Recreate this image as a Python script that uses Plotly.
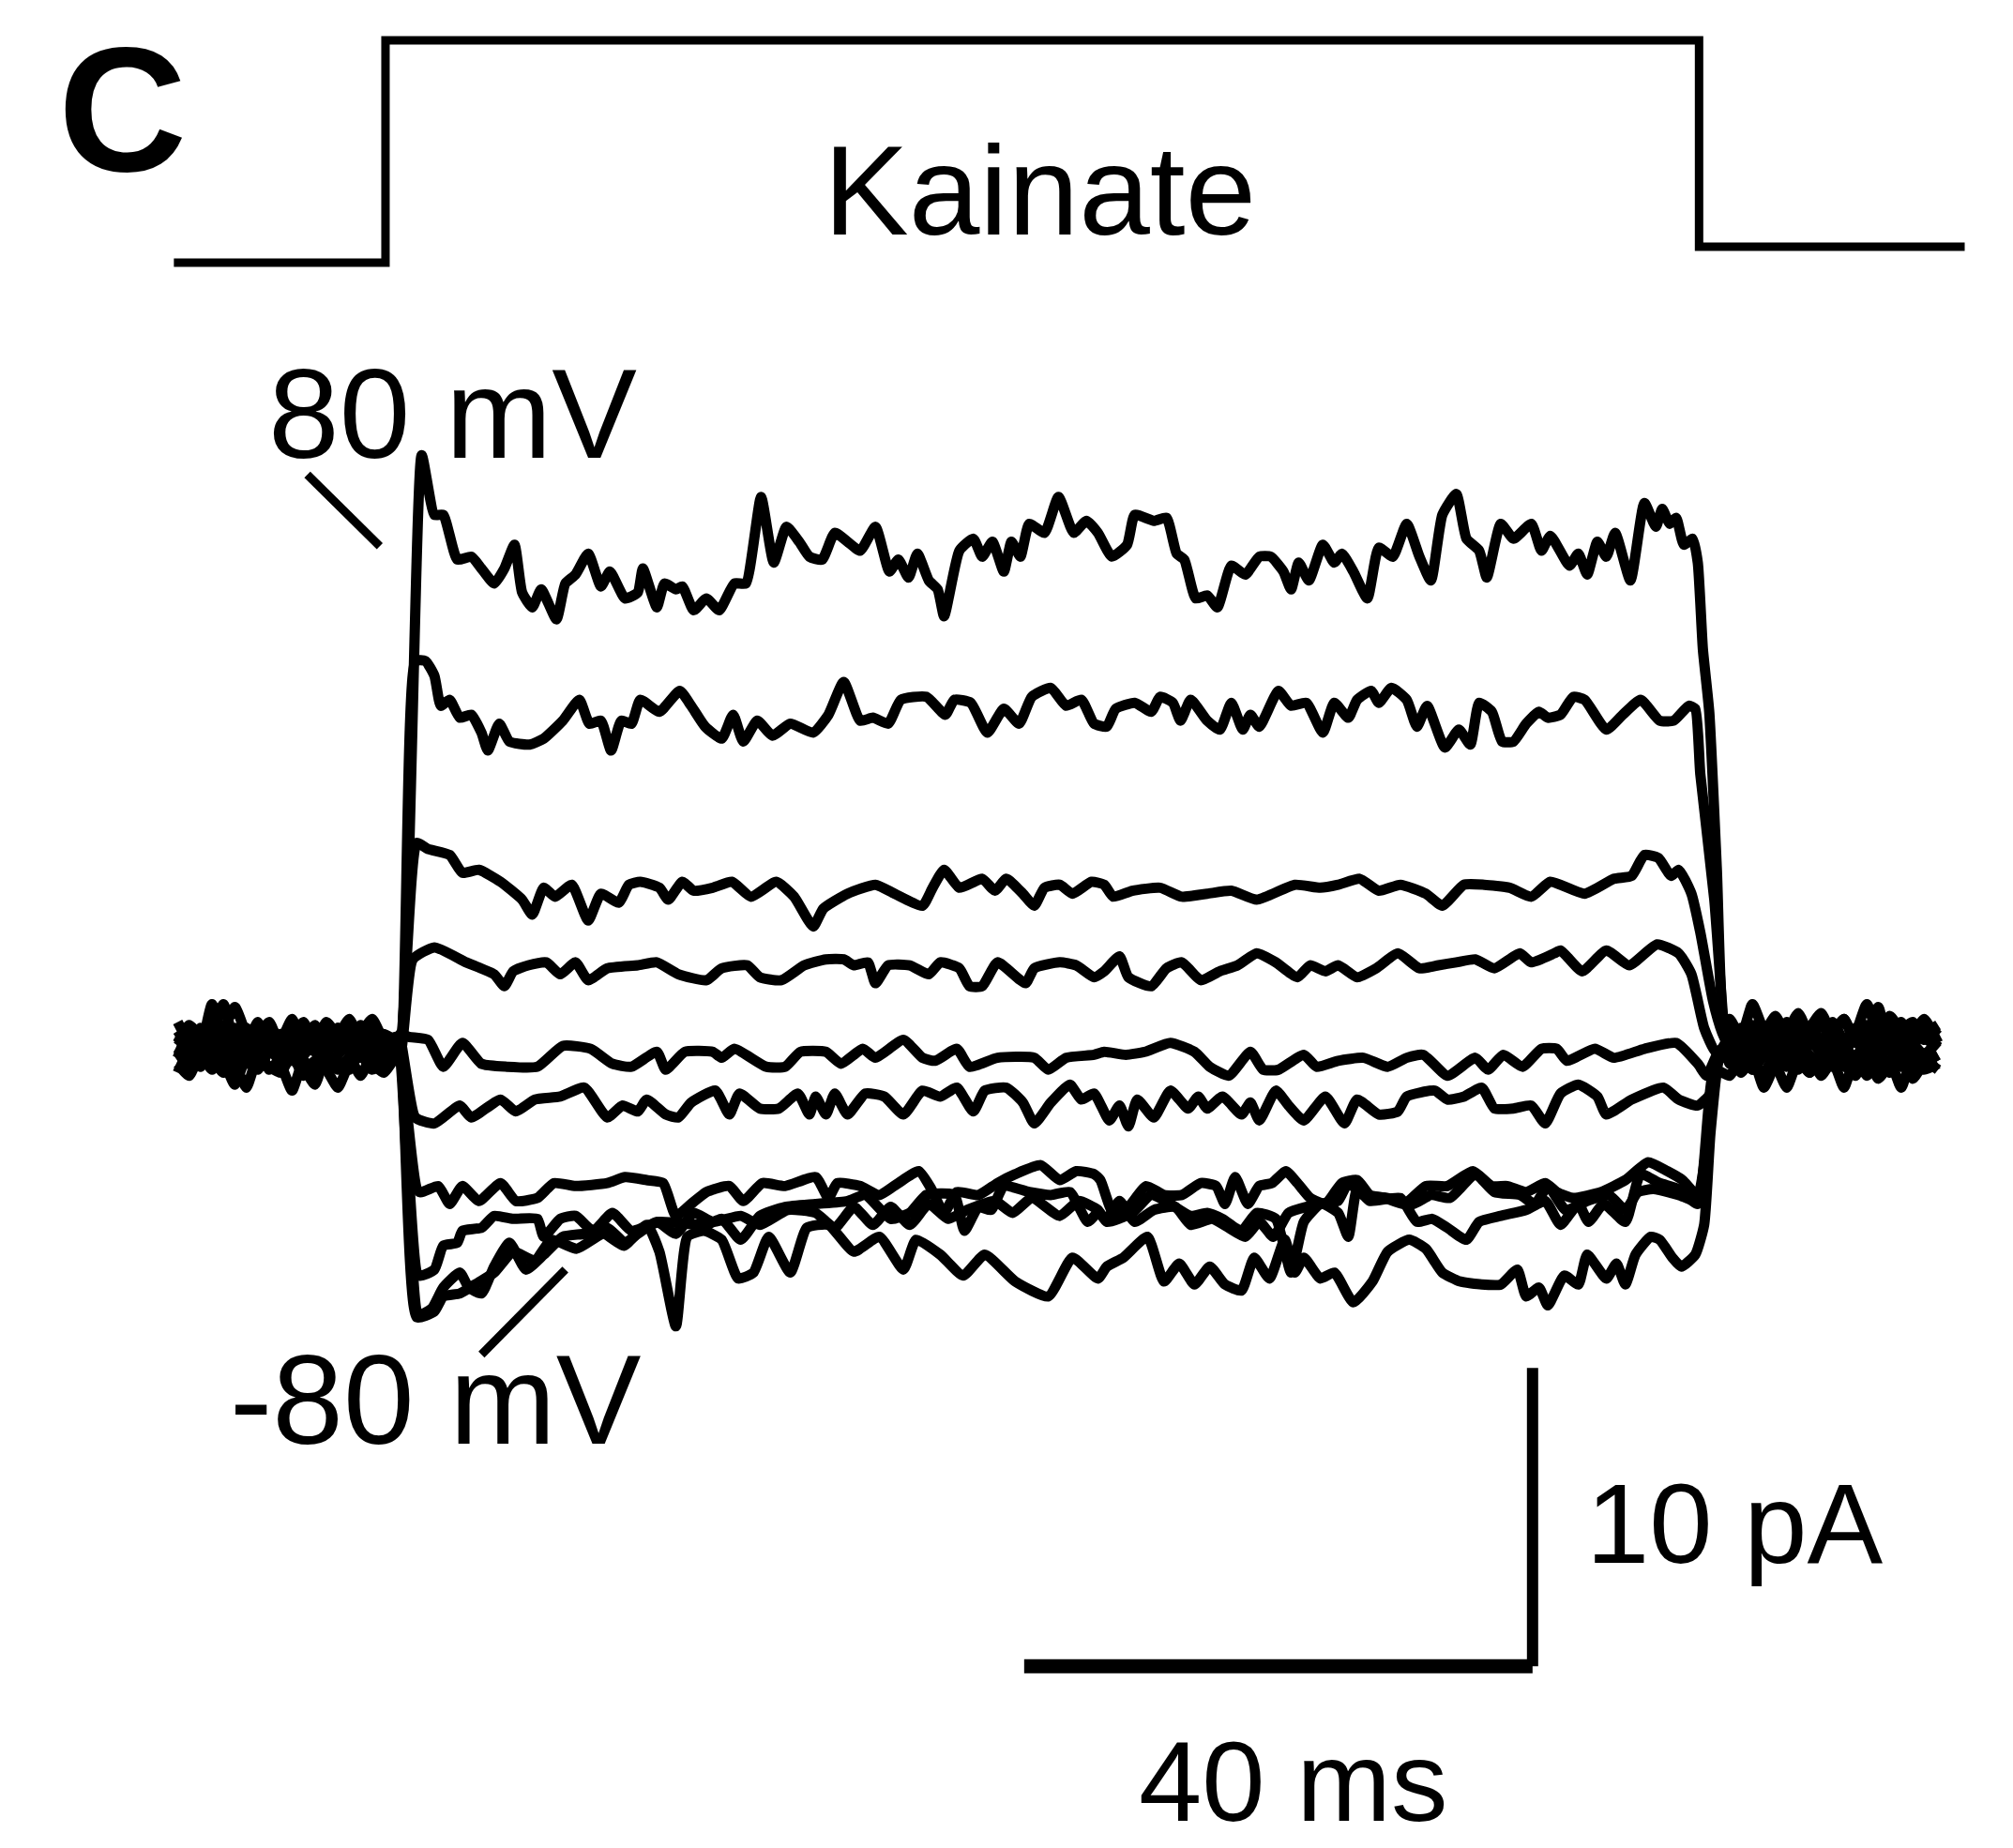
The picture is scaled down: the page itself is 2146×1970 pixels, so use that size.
import plotly.graph_objects as go

# ---------------------------------------------------------------------------
# Whole-cell currents (pA) versus time (ms); the voltage step runs from 0 ms
# to ~101 ms, kainate is applied from ~-1.9 ms to ~101.5 ms.
# Sweeps are listed from the most positive (top) to the most negative.
# ---------------------------------------------------------------------------

# sample times of the baseline before and after the step
t_pre = [-18.2, -17.3, -16.4, -15.5, -14.6, -13.7, -12.8, -11.9, -11.0, -10.1,
         -9.2, -8.3, -7.4, -6.5, -5.6, -4.7, -3.8, -2.9, -2.0, -1.1]
t_post = [103.9, 104.8, 105.7, 106.6, 107.5, 108.4, 109.3, 110.2, 111.1, 112.0,
          112.9, 113.8, 114.7, 115.6, 116.5, 117.4, 118.3, 119.2, 120.3]

# baseline currents (pA) of each sweep before the step
pre_1 = [0.3, -0.2, 0.6, 0.1, -0.4, 0.5, 0.0, 0.8, -0.1, 0.4, -0.5, 0.2, 0.7, -0.2, 0.3, 0.9, 0.1, -0.3, 0.4, 0.2]
pre_2 = [-0.4, 0.5, 0.0, 1.4, 0.2, -0.3, 0.6, 0.1, 0.5, -0.2, 0.3, 0.8, -0.1, 0.4, 0.0, 0.6, -0.4, 0.5, 0.1, -0.1]
pre_3 = [0.8, 0.1, -0.3, 0.4, 1.4, 0.0, -0.5, 0.3, 0.6, 0.2, 0.9, 0.0, 0.4, -0.3, 0.6, 0.2, 0.7, 0.0, -0.2, 0.3]
pre_4 = [-0.9, -0.2, -0.7, 0.0, -0.5, -1.3, -0.4, -0.8, -0.1, -0.6, -1.5, -0.5, -0.9, -0.2, -0.8, -0.4, -1.0, -0.3, -0.6, -0.2]
pre_5 = [0.1, 0.7, 0.3, -0.2, 0.5, 1.3, 0.4, -0.1, 0.6, 0.2, -0.3, 0.5, 0.1, 0.8, 0.3, -0.2, 0.4, 0.9, 0.2, 0.0]
pre_6 = [-0.3, 0.2, -0.6, -0.1, 0.3, -0.4, 0.1, -0.7, -0.2, 0.2, -0.5, -0.1, 0.3, -0.6, -0.3, 0.1, -0.4, 0.0, -0.5, -0.2]
pre_7 = [0.5, 0.0, 0.4, -0.4, 0.1, 0.6, -0.2, 0.3, 0.8, 0.0, 0.4, -0.3, 0.2, 0.5, -0.1, 0.3, 0.6, 0.0, 0.3, 0.1]
pre_8 = [-0.6, -1.0, -0.3, -0.8, -0.2, -0.6, -1.4, -0.4, -0.7, -0.9, -0.3, -1.0, -0.5, -0.8, -1.4, -0.6, -0.3, -0.8, -0.5, -0.3]
pre_9 = [0.0, 0.4, -0.2, 0.3, -0.5, 0.1, 0.5, -0.3, 0.2, -0.4, 0.0, 0.3, -0.2, 0.1, 0.6, -0.1, 0.2, -0.4, 0.1, 0.0]
pre_10 = [-0.2, -0.7, 0.1, -0.4, -0.9, -0.3, -0.6, 0.0, -0.8, -0.4, -0.1, -0.7, -1.3, -0.3, -0.5, -0.8, -0.2, -0.6, -0.9, -0.4]

# baseline currents (pA) of each sweep after the step
post_1 = [0.4, -0.3, 0.7, 0.1, 0.9, -0.2, 0.5, 0.0, 0.8, 0.3, -0.4, 0.6, 0.2, 1.3, -0.1, 0.5, 0.8, 0.2, 0.6]
post_2 = [-0.6, 0.2, -0.3, 0.5, -0.1, 0.4, 1.1, 0.3, -0.2, 0.7, 0.1, -0.5, 0.4, 0.0, 0.6, -0.3, 0.3, 0.9, 0.1]
post_3 = [0.9, 0.3, 1.4, 0.5, 0.0, 0.8, 0.2, 0.6, 1.1, 0.4, 0.9, 0.1, 0.7, 0.3, 1.0, 0.5, 0.0, 0.6, 0.4]
post_4 = [-0.2, -0.9, -0.4, -1.4, -0.6, -0.1, -0.8, -0.3, -1.0, -0.5, -1.4, -0.4, -0.7, -0.2, -0.9, -0.5, -1.1, -0.6, -0.3]
post_5 = [0.2, 0.6, -0.1, 0.4, 1.0, 0.3, -0.2, 0.5, 0.1, 0.8, 0.2, 0.5, -0.3, 0.4, 0.7, 0.0, 0.5, 0.3, -0.1]
post_6 = [-0.5, 0.0, -0.8, -0.3, 0.2, -0.6, -0.2, -0.9, -0.4, 0.1, -0.7, -0.3, -1.0, -0.4, -0.1, -0.7, -0.2, -0.5, -0.3]
post_7 = [0.0, 0.5, 0.2, -0.3, 0.6, 0.1, 0.8, 0.3, -0.2, 0.4, 0.9, 0.2, 0.6, 0.0, 0.3, 0.8, 0.1, 0.4, 0.7]
post_8 = [-1.0, -0.4, -0.8, -0.2, -0.6, -1.4, -0.5, -0.9, -0.3, -0.7, -0.1, -0.8, -0.4, -1.1, -0.6, -0.2, -0.9, -0.5, -0.8]
post_9 = [0.3, -0.2, 0.1, 0.5, -0.4, 0.2, 0.0, 0.6, -0.3, 0.2, -0.1, 0.4, 1.4, 0.3, -0.2, 0.5, 0.1, -0.3, 0.2]
post_10 = [-0.5, -0.1, -0.6, -0.9, -0.3, -0.7, 0.0, -0.4, -0.8, -0.2, -0.6, -1.0, -0.3, -0.7, -0.5, -1.4, -0.4, -0.8, -0.6]

# currents during the step: (time ms, current pA)
step_1 = [(-0.7, 0.2), (1.0, 19.8), (2.0, 17.8), (2.7, 17.8), (3.8, 16.3), (4.9, 16.4), (5.7, 16.0),
          (6.7, 15.5), (7.5, 16.0), (8.3, 16.8), (8.9, 15.2), (9.7, 14.7), (10.4, 15.3), (11.6, 14.3),
          (12.3, 15.5), (13.1, 15.8), (14.1, 16.5), (15.1, 15.4), (15.8, 15.9), (17.0, 15.0), (18.0, 15.2),
          (18.4, 16.0), (19.5, 14.7), (20.1, 15.5), (21.0, 15.3), (21.5, 15.4), (22.4, 14.6), (23.4, 15.0),
          (24.4, 14.6), (25.6, 15.5), (26.5, 15.5), (27.7, 18.4), (28.7, 16.2), (29.7, 17.4), (30.7, 16.9),
          (31.5, 16.4), (32.5, 16.3), (33.5, 17.2), (34.5, 16.9), (35.5, 16.6), (36.7, 17.4), (37.8, 15.9),
          (38.5, 16.3), (39.3, 15.7), (40.0, 16.5), (40.9, 15.6), (41.6, 15.3), (42.1, 14.4), (43.3, 16.6),
          (44.4, 17.0), (45.1, 16.4), (45.9, 16.9), (46.8, 15.9), (47.4, 16.9), (48.1, 16.4), (48.8, 17.5),
          (50.0, 17.2), (51.1, 18.4), (52.3, 17.2), (53.3, 17.6), (54.2, 17.2), (55.3, 16.4), (56.5, 16.8),
          (57.1, 17.8), (58.6, 17.6), (59.6, 17.7), (60.4, 16.5), (61.0, 16.3), (61.9, 15.0), (62.8, 15.1),
          (63.6, 14.7), (64.7, 16.1), (65.8, 15.8), (66.9, 16.4), (67.8, 16.4), (68.8, 15.9), (69.4, 15.3),
          (70.0, 16.2), (70.8, 15.6), (71.9, 16.8), (72.8, 16.2), (73.4, 16.5), (74.3, 15.9), (75.4, 15.0),
          (76.3, 16.7), (77.4, 16.4), (78.5, 17.5), (79.5, 16.4), (80.4, 15.6), (81.3, 17.8), (82.4, 18.5),
          (83.2, 17.0), (84.2, 16.6), (84.8, 15.7), (85.9, 17.5), (86.9, 17.0), (88.3, 17.5), (89.1, 16.6),
          (89.8, 17.1), (91.3, 16.1), (92.0, 16.5), (92.7, 15.8), (93.5, 16.9), (94.2, 16.4), (94.9, 17.2),
          (96.1, 15.6), (97.2, 18.2), (98.1, 17.4), (98.6, 18.0), (99.2, 17.5), (99.7, 17.7), (100.3, 16.8),
          (101.0, 17.0), (101.4, 16.2), (101.8, 13.3), (102.3, 11.2), (102.9, 5.9), (103.4, 0.8)]

step_2 = [(-0.7, -0.1), (0.5, 12.9), (1.3, 12.9), (2.0, 12.4), (2.5, 11.4), (3.2, 11.6), (4.0, 11.0),
          (4.9, 11.1), (5.7, 10.5), (6.2, 9.9), (7.1, 10.8), (7.9, 10.2), (9.5, 10.1), (10.6, 10.3),
          (12.1, 10.9), (13.4, 11.6), (14.2, 10.8), (15.1, 10.9), (15.9, 9.9), (16.7, 10.9), (17.5, 10.8),
          (18.2, 11.6), (19.7, 11.2), (21.3, 11.9), (22.2, 11.4), (23.3, 10.7), (24.6, 10.3), (25.5, 11.1),
          (26.3, 10.2), (27.4, 10.9), (28.6, 10.4), (30.0, 10.8), (31.8, 10.5), (33.0, 11.1), (34.2, 12.2),
          (35.5, 10.9), (36.5, 11.0), (37.7, 10.8), (38.7, 11.6), (40.7, 11.7), (42.2, 11.1), (42.9, 11.6),
          (44.2, 11.5), (45.5, 10.5), (46.8, 11.3), (48.0, 10.8), (49.0, 11.7), (50.5, 12.0), (51.7, 11.4),
          (52.9, 11.6), (53.9, 10.8), (54.9, 10.7), (55.6, 11.3), (57.1, 11.5), (58.4, 11.2), (59.1, 11.7),
          (60.1, 11.5), (60.7, 10.9), (61.5, 11.6), (62.8, 10.9), (63.8, 10.6), (64.7, 11.5), (65.6, 10.6),
          (66.2, 11.1), (66.9, 10.7), (68.4, 11.9), (69.4, 11.4), (70.6, 11.5), (71.9, 10.5), (72.8, 11.5),
          (73.9, 11.0), (74.6, 11.6), (75.7, 11.9), (76.3, 11.5), (77.3, 12.0), (78.5, 11.6), (79.3, 10.7),
          (80.1, 11.4), (81.5, 10.0), (82.6, 10.6), (83.5, 10.1), (84.2, 11.5), (85.2, 11.2), (86.0, 10.2),
          (86.9, 10.2), (87.9, 10.8), (88.9, 11.2), (89.6, 11.0), (90.6, 11.1), (91.6, 11.7), (92.5, 11.6),
          (94.2, 10.6), (95.5, 11.1), (96.9, 11.6), (98.4, 10.9), (99.5, 10.9), (100.7, 11.4), (101.2, 11.3),
          (101.6, 9.1), (102.7, 4.9), (103.5, 0.4)]

step_3 = [(-0.7, 0.3), (0.6, 6.8), (1.5, 6.6), (3.2, 6.4), (4.2, 5.8), (5.5, 5.9), (7.2, 5.5), (8.9, 4.9),
          (9.7, 4.4), (10.6, 5.3), (11.5, 5.0), (12.8, 5.4), (14.1, 4.2), (15.1, 5.1), (16.5, 4.8),
          (17.3, 5.4), (18.2, 5.5), (19.7, 5.3), (20.4, 4.9), (21.5, 5.5), (22.4, 5.2), (23.9, 5.3),
          (25.4, 5.5), (26.9, 5.0), (28.9, 5.5), (30.3, 5.0), (31.8, 4.0), (32.6, 4.6), (34.5, 5.1),
          (36.7, 5.4), (38.2, 5.1), (40.4, 4.7), (41.2, 5.3), (42.1, 5.9), (43.3, 5.3), (45.1, 5.6),
          (46.1, 5.2), (47.0, 5.6), (48.3, 5.1), (49.2, 4.7), (50.0, 5.3), (51.2, 5.4), (52.2, 5.1),
          (53.7, 5.5), (54.7, 5.4), (55.4, 5.0), (56.9, 5.2), (59.1, 5.3), (60.8, 5.0), (62.8, 5.1),
          (64.7, 5.2), (66.7, 4.9), (69.7, 5.4), (71.7, 5.3), (73.1, 5.4), (74.8, 5.6), (76.3, 5.2),
          (78.0, 5.4), (80.0, 5.1), (81.3, 4.7), (83.0, 5.4), (84.6, 5.4), (86.6, 5.3), (88.3, 5.0),
          (89.8, 5.5), (92.5, 5.1), (94.8, 5.6), (96.2, 5.7), (97.2, 6.4), (98.3, 6.3), (99.3, 5.7),
          (99.9, 5.9), (100.9, 5.1), (101.6, 3.8), (102.6, 1.5), (103.5, 0.2)]

step_4 = [(-0.7, -0.3), (0.3, 2.9), (2.0, 3.3), (4.5, 2.8), (6.7, 2.4), (7.5, 2.0), (8.2, 2.5), (9.4, 2.7),
          (10.8, 2.8), (11.9, 2.4), (13.1, 2.8), (14.1, 2.2), (15.6, 2.6), (18.0, 2.7), (19.5, 2.8),
          (21.2, 2.4), (23.4, 2.2), (24.6, 2.6), (26.6, 2.7), (27.6, 2.3), (29.3, 2.2), (31.1, 2.7),
          (32.8, 2.9), (34.2, 2.9), (35.0, 2.7), (36.1, 2.8), (36.7, 2.1), (37.7, 2.7), (39.4, 2.7),
          (40.9, 2.4), (41.8, 2.8), (43.3, 2.6), (44.1, 2.0), (45.1, 2.0), (46.3, 2.8), (48.5, 2.1),
          (49.2, 2.6), (51.2, 2.8), (52.5, 2.7), (53.9, 2.3), (54.7, 2.5), (55.9, 3.0), (56.6, 2.3),
          (58.4, 2.0), (59.6, 2.6), (60.8, 2.8), (62.3, 2.2), (63.8, 2.5), (65.2, 2.7), (66.7, 3.1),
          (68.2, 2.8), (69.9, 2.3), (70.9, 2.7), (72.1, 2.5), (73.1, 2.7), (74.6, 2.3), (76.1, 2.6),
          (77.8, 3.1), (79.5, 2.6), (81.0, 2.7), (82.4, 2.8), (83.9, 2.9), (85.4, 2.6), (87.4, 3.1),
          (88.3, 2.8), (90.1, 3.1), (90.6, 3.2), (92.3, 2.5), (94.2, 3.2), (96.0, 2.7), (98.2, 3.4),
          (99.9, 3.1), (100.9, 2.4), (101.9, 0.6), (102.8, -0.2)]

step_5 = [(-0.7, 0.4), (0.0, 0.3), (1.5, 0.2), (2.7, -0.7), (4.2, 0.1), (5.7, -0.6), (7.7, -0.7),
          (10.1, -0.7), (12.1, 0.0), (14.3, -0.1), (16.0, -0.6), (17.5, -0.7), (19.5, -0.2), (20.2, -0.8),
          (21.7, -0.2), (23.9, -0.2), (24.6, -0.4), (25.6, -0.1), (28.1, -0.7), (29.6, -0.7), (30.8, -0.2),
          (32.8, -0.2), (34.0, -0.6), (35.7, -0.1), (36.7, -0.4), (38.9, 0.2), (40.4, -0.4), (41.4, -0.5),
          (43.1, -0.1), (44.1, -0.7), (46.3, -0.4), (49.2, -0.4), (50.3, -0.8), (51.7, -0.4), (53.9, -0.3),
          (54.7, -0.2), (56.4, -0.3), (57.9, -0.2), (59.9, 0.1), (61.8, -0.2), (63.0, -0.7), (64.5, -1.0),
          (66.2, -0.2), (67.2, -0.8), (68.4, -0.8), (70.4, -0.3), (71.4, -0.7), (73.1, -0.5), (75.1, -0.4),
          (77.0, -0.7), (78.5, -0.4), (79.8, -0.3), (81.7, -1.0), (83.9, -0.4), (84.9, -0.8), (86.1, -0.3),
          (87.6, -0.7), (89.1, -0.1), (90.3, -0.1), (91.1, -0.5), (93.3, -0.1), (94.8, -0.4), (97.2, -0.1),
          (99.7, 0.1), (101.4, -0.6), (102.1, -1.0), (102.9, -0.3)]

step_6 = [(-0.7, 0.2), (0.5, -2.4), (2.0, -2.6), (4.0, -2.0), (4.9, -2.4), (7.2, -1.8), (8.4, -2.2),
          (9.9, -1.8), (11.9, -1.7), (13.8, -1.4), (15.6, -2.4), (16.8, -2.0), (18.0, -2.2), (18.7, -1.8),
          (20.2, -2.3), (21.2, -2.4), (22.2, -1.9), (24.1, -1.5), (25.2, -2.3), (26.0, -1.6), (27.6, -2.1),
          (29.1, -2.1), (30.6, -1.6), (31.5, -2.3), (32.0, -1.7), (32.8, -2.3), (33.5, -1.6), (34.5, -2.3),
          (35.9, -1.6), (37.4, -1.7), (38.9, -2.3), (40.4, -1.5), (41.8, -1.7), (43.1, -1.4), (44.4, -2.2),
          (45.3, -1.5), (47.0, -1.4), (48.3, -1.9), (49.2, -2.6), (50.5, -1.9), (52.0, -1.3), (52.9, -1.8),
          (53.9, -1.6), (55.1, -2.5), (55.9, -2.0), (56.6, -2.7), (57.3, -1.8), (58.6, -2.4), (59.9, -1.5),
          (61.3, -2.1), (62.1, -1.7), (62.8, -2.1), (64.0, -1.7), (65.5, -2.3), (66.2, -1.9), (66.9, -2.5),
          (68.2, -1.5), (69.2, -2.0), (70.4, -2.5), (72.1, -1.7), (73.6, -2.6), (74.6, -1.8), (76.3, -2.3),
          (77.8, -2.2), (78.5, -1.7), (80.7, -1.5), (81.7, -1.8), (83.0, -1.7), (84.4, -1.4), (85.4, -2.1),
          (86.9, -2.1), (88.3, -2.0), (89.4, -2.6), (90.6, -1.6), (92.0, -1.3), (93.5, -1.7), (94.2, -2.3),
          (96.2, -1.8), (98.7, -1.4), (99.9, -1.8), (101.4, -2.0), (102.4, -1.6), (103.2, -0.3)]

step_7 = [(-0.7, -0.2), (0.8, -4.9), (2.3, -4.7), (3.2, -5.3), (4.2, -4.7), (5.5, -5.2), (7.2, -4.6),
          (8.4, -5.2), (10.1, -5.1), (11.4, -4.6), (13.1, -4.7), (15.6, -4.6), (17.0, -4.4), (18.7, -4.5),
          (20.0, -4.6), (21.0, -5.7), (22.2, -5.3), (23.4, -4.9), (25.2, -4.7), (26.3, -5.2), (27.8, -4.6),
          (29.6, -4.7), (32.0, -4.4), (33.0, -5.1), (33.7, -4.6), (35.5, -4.7), (37.0, -5.0), (38.5, -4.6),
          (40.1, -4.2), (41.1, -4.8), (42.1, -5.6), (43.1, -4.9), (44.8, -5.0), (46.3, -4.6), (47.7, -4.3),
          (49.7, -4.0), (51.2, -4.5), (52.5, -4.2), (53.9, -4.3), (54.4, -4.5), (55.4, -5.6), (56.6, -5.4),
          (58.0, -4.7), (59.4, -5.0), (60.8, -5.0), (62.3, -4.6), (63.5, -4.7), (64.2, -5.3), (65.0, -4.4),
          (66.0, -5.3), (66.9, -4.7), (67.9, -4.6), (69.0, -4.2), (69.9, -4.6), (70.9, -5.1), (72.1, -5.3),
          (73.4, -4.6), (74.6, -4.5), (75.6, -5.0), (76.8, -5.1), (78.3, -5.3), (80.0, -4.7), (81.7, -4.7),
          (83.7, -4.2), (85.2, -4.7), (86.4, -4.7), (87.9, -4.9), (89.4, -4.6), (90.3, -4.9), (91.6, -5.1),
          (93.8, -4.9), (95.7, -4.5), (97.5, -3.9), (99.0, -4.2), (100.2, -4.5), (101.4, -5.0), (103.0, -0.5)]

step_8 = [(-0.7, 0.1), (0.8, -7.7), (2.0, -7.5), (2.7, -6.7), (3.8, -6.6), (4.2, -6.2), (5.7, -6.1),
          (6.7, -5.7), (8.2, -5.8), (10.1, -5.8), (10.6, -6.4), (11.9, -5.8), (13.1, -5.7), (14.5, -6.2),
          (16.0, -5.6), (17.5, -6.2), (19.7, -5.9), (23.4, -6.0), (24.6, -5.8), (26.1, -6.5), (27.6, -5.7),
          (29.6, -5.4), (32.0, -5.3), (34.5, -5.2), (35.9, -5.0), (37.9, -5.8), (39.4, -5.6), (40.7, -5.0),
          (42.9, -5.0), (43.7, -6.2), (44.8, -5.4), (45.8, -5.5), (46.8, -4.7), (48.8, -4.9), (50.5, -5.0),
          (52.0, -4.9), (53.4, -5.9), (54.2, -5.6), (54.9, -5.8), (55.9, -5.2), (57.1, -5.9), (58.6, -5.5),
          (60.3, -5.4), (61.5, -6.0), (63.2, -5.8), (64.5, -6.1), (65.8, -6.4), (66.9, -5.9), (68.0, -6.4),
          (69.2, -5.6), (70.6, -5.4), (71.9, -5.3), (73.1, -5.6), (73.9, -6.4), (74.6, -4.8), (75.6, -5.2),
          (78.0, -5.1), (79.3, -5.9), (80.5, -5.8), (81.7, -6.1), (83.2, -6.5), (84.2, -5.9), (85.9, -5.7),
          (87.9, -5.5), (89.4, -5.2), (90.6, -6.0), (92.0, -5.3), (92.8, -5.9), (94.0, -5.3), (95.7, -5.9),
          (96.9, -4.3), (98.4, -4.6), (99.9, -4.8), (101.4, -5.3), (102.7, -0.8)]

step_9 = [(-0.7, -0.4), (0.8, -9.0), (1.8, -8.8), (2.7, -8.1), (4.0, -7.6), (4.7, -8.1), (5.7, -8.3),
          (6.7, -7.4), (7.9, -6.6), (9.2, -7.5), (10.6, -7.0), (12.1, -6.4), (13.8, -6.3), (15.6, -6.1),
          (17.0, -6.6), (18.0, -6.3), (19.5, -5.9), (21.0, -6.3), (22.4, -5.6), (23.9, -5.9), (26.1, -5.7),
          (27.6, -6.0), (29.8, -5.5), (32.0, -5.6), (33.5, -6.1), (35.0, -5.4), (36.5, -6.0), (37.9, -5.4),
          (39.4, -6.0), (40.9, -5.3), (42.4, -5.8), (43.9, -5.5), (46.1, -5.2), (47.5, -5.6), (49.0, -5.1),
          (51.2, -5.7), (52.7, -5.2), (54.2, -5.5), (54.9, -5.9), (56.9, -5.6), (58.4, -5.0), (59.9, -5.3),
          (61.5, -5.7), (62.8, -5.6), (64.0, -5.8), (65.5, -6.2), (66.7, -5.6), (68.2, -5.8), (69.4, -7.6),
          (70.4, -5.9), (71.7, -5.3), (73.1, -5.2), (73.9, -4.6), (75.1, -5.0), (77.0, -5.1), (79.0, -5.3),
          (80.4, -5.0), (81.9, -5.1), (83.9, -4.3), (85.4, -4.9), (87.4, -5.0), (88.6, -5.3), (89.6, -4.7),
          (91.0, -5.5), (92.7, -5.2), (94.4, -5.0), (95.7, -5.5), (96.7, -4.9), (97.9, -4.8), (99.9, -5.0),
          (101.4, -5.2), (102.8, -0.6)]

step_10 = [(-0.7, -0.2), (0.6, -9.1), (2.0, -8.9), (2.7, -8.4), (4.0, -8.3), (5.2, -8.0), (6.7, -7.6),
           (8.2, -6.9), (9.9, -7.2), (11.2, -6.5), (13.2, -6.8), (15.3, -6.3), (16.9, -6.7), (18.7, -6.0),
           (19.7, -6.9), (21.0, -9.4), (21.9, -6.4), (23.2, -6.2), (24.6, -6.5), (25.9, -7.8), (27.1, -7.6),
           (28.3, -6.4), (30.0, -7.6), (31.3, -6.1), (33.0, -6.0), (35.0, -6.9), (37.0, -6.4), (38.9, -7.5),
           (39.9, -6.5), (41.8, -7.0), (43.6, -7.7), (45.3, -7.0), (47.7, -7.9), (50.3, -8.4), (52.2, -7.1),
           (54.2, -7.8), (54.9, -7.4), (56.2, -7.1), (58.1, -6.4), (59.4, -7.9), (60.6, -7.3), (61.8, -8.0),
           (63.0, -7.4), (64.2, -8.0), (65.5, -8.2), (66.5, -7.1), (67.7, -7.8), (68.9, -6.5), (69.7, -7.6),
           (70.4, -7.1), (71.7, -7.8), (72.8, -7.6), (74.3, -8.6), (75.8, -7.9), (77.0, -6.9), (78.7, -6.5),
           (80.0, -6.8), (81.3, -7.6), (82.7, -7.9), (84.4, -8.0), (85.9, -8.0), (87.2, -7.5), (87.9, -8.4),
           (88.9, -8.1), (89.6, -8.7), (90.9, -7.7), (92.0, -8.0), (92.7, -7.0), (94.2, -7.8), (95.0, -7.3),
           (95.7, -8.0), (96.5, -7.0), (97.7, -6.4), (98.4, -6.5), (99.4, -7.1), (100.1, -7.4), (101.2, -7.0),
           (101.9, -6.0), (102.4, -2.9), (103.2, -0.2)]

sweeps = [
    (pre_1, step_1, post_1), (pre_2, step_2, post_2), (pre_3, step_3, post_3),
    (pre_4, step_4, post_4), (pre_5, step_5, post_5), (pre_6, step_6, post_6),
    (pre_7, step_7, post_7), (pre_8, step_8, post_8), (pre_9, step_9, post_9),
    (pre_10, step_10, post_10),
]

# kainate application trace (0 = off, 1 = on)
kainate_t = [-18.5, -1.85, -1.85, 101.5, 101.5, 122.4]
kainate_level = [0.0, 0.0, 1.0, 1.0, 0.072, 0.072]

# scale bars
scale_t0, scale_ms = 48.4, 40.0
scale_i0, scale_pA = -20.8, 10.0

# label leader lines (time ms, current pA)
leader_pos_t, leader_pos_i = [-8.0, -2.3], [19.15, 16.75]
leader_neg_t, leader_neg_i = [12.3, 5.7], [-7.5, -10.35]

fig = go.Figure()

for pre, step, post in sweeps:
    x = t_pre + [p[0] for p in step] + t_post
    y = pre + [p[1] for p in step] + post
    fig.add_trace(go.Scatter(x=x, y=y, mode="lines",
                             line=dict(color="black", width=11, shape="spline", smoothing=0.5),
                             hoverinfo="skip", showlegend=False))

fig.add_trace(go.Scatter(x=kainate_t, y=kainate_level, yaxis="y2", mode="lines",
                         line=dict(color="black", width=9),
                         hoverinfo="skip", showlegend=False))

# 10 pA vertical and 40 ms horizontal scale bars
fig.add_trace(go.Scatter(x=[scale_t0 + scale_ms, scale_t0 + scale_ms],
                         y=[scale_i0, scale_i0 + scale_pA], mode="lines",
                         line=dict(color="black", width=12),
                         hoverinfo="skip", showlegend=False))
fig.add_trace(go.Scatter(x=[scale_t0, scale_t0 + scale_ms], y=[scale_i0, scale_i0],
                         mode="lines", line=dict(color="black", width=15),
                         hoverinfo="skip", showlegend=False))

for lt, li in ((leader_pos_t, leader_pos_i), (leader_neg_t, leader_neg_i)):
    fig.add_trace(go.Scatter(x=lt, y=li, mode="lines",
                             line=dict(color="black", width=9),
                             hoverinfo="skip", showlegend=False))

FONT = "Liberation Sans, Arial, Helvetica, sans-serif"
label_font = dict(family=FONT, size=136, color="black")
scale_font = dict(family=FONT, size=121, color="black")

annotations = [
    dict(text="<b>C</b>", xref="paper", yref="paper", x=130 / 2146, y=1 - 116 / 1970,
         font=dict(family=FONT, size=190, color="black")),
    dict(text="Kainate", xref="paper", yref="paper", x=1108 / 2146, y=1 - 203 / 1970,
         font=label_font),
    dict(text="80 mV", xref="x", yref="y", x=3.4, y=21.2, font=label_font),
    dict(text="-80 mV", xref="x", yref="y", x=2.1, y=-11.85, font=label_font),
    dict(text="10 pA", xref="x", yref="y", x=104.3, y=-16.0, font=scale_font),
    dict(text="40 ms", xref="x", yref="y", x=69.6, y=-24.65, font=scale_font),
]
for a in annotations:
    a.update(showarrow=False, xanchor="center", yanchor="middle")

fig.update_layout(
    width=2146, height=1970,
    margin=dict(l=0, r=0, t=0, b=0),
    paper_bgcolor="white", plot_bgcolor="white",
    showlegend=False, hovermode=False,
    xaxis=dict(range=[-32.18, 126.2], visible=False, fixedrange=True),
    yaxis=dict(range=[-26.89, 35.06], visible=False, fixedrange=True),
    yaxis2=dict(range=[-7.131, 1.1814], overlaying="y", visible=False, fixedrange=True),
    annotations=annotations,
)

fig.write_html("out.html")
